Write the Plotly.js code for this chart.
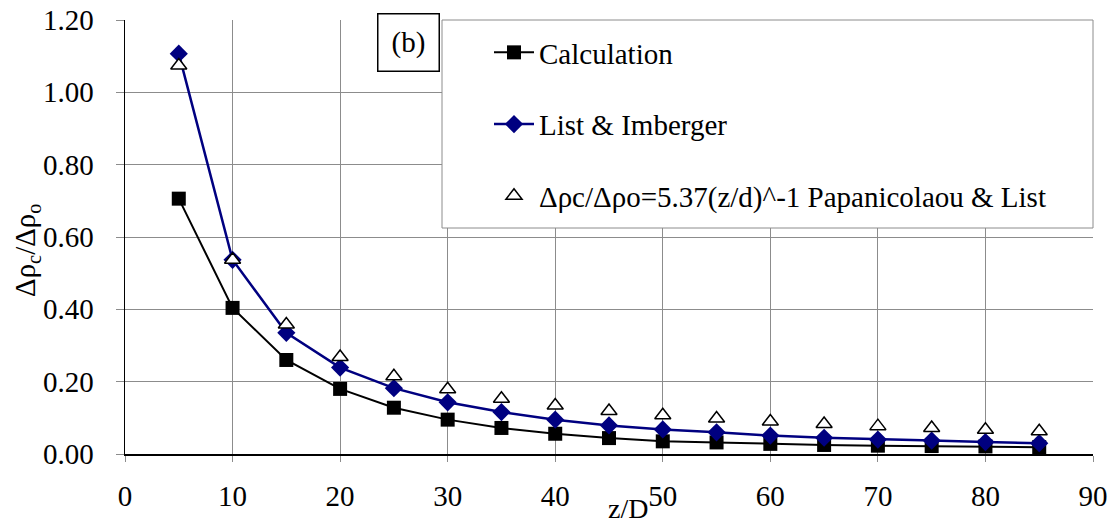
<!DOCTYPE html>
<html>
<head>
<meta charset="utf-8">
<script src="https://cdn.plot.ly/plotly-3.0.1.min.js"></script>
<style>html,body{margin:0;padding:0;background:#fff;}#chart{width:1117px;height:526px;}</style>
</head>
<body>
<div id="chart"></div>
<script>
// Data
const zD = [5, 10, 15, 20, 25, 30, 35, 40, 45, 50, 55, 60, 65, 70, 75, 80, 85];
const calculation = [0.706, 0.404, 0.260, 0.180, 0.128, 0.095, 0.072, 0.056, 0.044, 0.035, 0.032, 0.028, 0.025, 0.023, 0.022, 0.021, 0.019];
const listImberger = [1.107, 0.537, 0.335, 0.239, 0.182, 0.143, 0.116, 0.095, 0.079, 0.068, 0.060, 0.051, 0.045, 0.040, 0.037, 0.033, 0.030];
const papanicolaou = [1.074, 0.537, 0.358, 0.268, 0.215, 0.179, 0.153, 0.134, 0.119, 0.107, 0.098, 0.090, 0.083, 0.077, 0.072, 0.067, 0.063];
const seriesNames = ["Calculation", "List & Imberger", "\u0394\u03c1c/\u0394\u03c1o=5.37(z/d)^-1 Papanicolaou & List"];
const xTickVals = [0, 10, 20, 30, 40, 50, 60, 70, 80, 90];
const yTickVals = [0, 0.2, 0.4, 0.6, 0.8, 1.0, 1.2];

const FONT = "Liberation Serif";
const L = 125, R = 24, T = 20, B = 72, W = 1117, H = 526;
const pw = W - L - R, ph = H - T - B;
const px = v => (v - L) / pw;          // pixel -> paper x
const py = v => (H - B - v) / ph;      // pixel -> paper y

const traces = [
  {x: zD, y: calculation, name: seriesNames[0], mode: "lines+markers", legendgroup: "a",
   line: {color: "#000000", width: 2}, marker: {symbol: "square", size: 14, color: "#000000"}},
  {x: zD, y: listImberger, name: seriesNames[1], mode: "lines+markers", legendgroup: "b",
   line: {color: "#000080", width: 2.5}, marker: {symbol: "diamond", size: 14, color: "#000080"}},
  {x: zD, y: papanicolaou, name: seriesNames[2], mode: "markers", legendgroup: "c",
   marker: {symbol: "triangle-up", size: 14, color: "#ffffff", line: {color: "#000000", width: 1.5}}}
];

const layout = {
  width: W, height: H,
  margin: {l: L, r: R, t: T, b: B, pad: 0},
  paper_bgcolor: "#ffffff", plot_bgcolor: "#ffffff",
  font: {family: FONT, size: 28, color: "#000000"},
  showlegend: true,
  legend: {x: px(489), y: py(27), xanchor: "left", yanchor: "top",
           bgcolor: "rgba(0,0,0,0)", borderwidth: 0,
           font: {family: FONT, size: 29},
           tracegroupgap: 31, itemwidth: 40},
  xaxis: {range: [0, 90], tickvals: xTickVals, ticktext: xTickVals.map(String),
          showgrid: true, gridcolor: "#8c8c8c", gridwidth: 1, zeroline: false,
          showline: true, linecolor: "#000000", linewidth: 1.5,
          ticks: "outside", ticklen: 6, tickcolor: "#8c8c8c", ticklabelstandoff: 10,
          ticklabeloverflow: "allow",
          tickfont: {family: FONT, size: 29}, fixedrange: true},
  yaxis: {range: [0, 1.2], tickvals: yTickVals, tickformat: ".2f",
          showgrid: true, gridcolor: "#8c8c8c", gridwidth: 1, zeroline: false,
          showline: true, linecolor: "#000000", linewidth: 1.5,
          ticks: "outside", ticklen: 8, tickcolor: "#8c8c8c", ticklabelstandoff: 16,
          tickfont: {family: FONT, size: 29}, fixedrange: true},
  shapes: [
    {type: "rect", xref: "paper", yref: "paper", x0: px(442), x1: px(1093), y0: py(228), y1: py(20),
     fillcolor: "#ffffff", line: {color: "#8c8c8c", width: 1}, layer: "above"}
  ],
  annotations: [
    {xref: "paper", yref: "paper", x: px(440), y: py(72), xanchor: "right", yanchor: "bottom",
     text: "(b)", showarrow: false, font: {family: FONT, size: 29},
     bgcolor: "#ffffff", bordercolor: "#000000", borderwidth: 1.5, borderpad: 2, width: 56, height: 52},
    {xref: "paper", yref: "paper", x: px(27), y: py(251), xanchor: "center", yanchor: "middle",
     text: "\u0394\u03c1<sub>c</sub>/\u0394\u03c1<sub>o</sub>", textangle: -90, showarrow: false,
     font: {family: FONT, size: 29}},
    {xref: "paper", yref: "paper", x: px(628), y: py(508), xanchor: "center", yanchor: "middle",
     text: "z/D", showarrow: false, font: {family: FONT, size: 28}}
  ]
};

Plotly.newPlot("chart", traces, layout, {displayModeBar: false, staticPlot: true});
</script>
</body>
</html>
